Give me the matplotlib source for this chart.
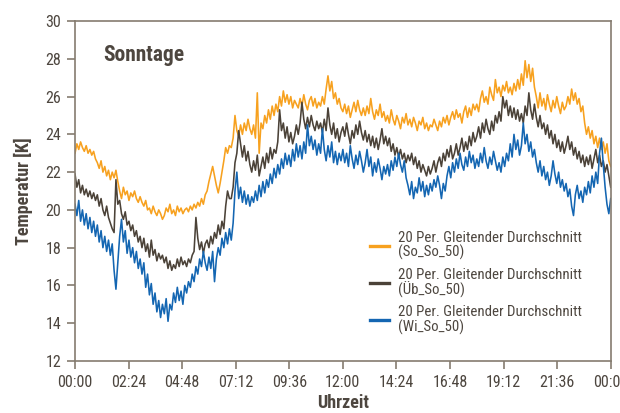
import numpy as np
import matplotlib
matplotlib.use("Agg")
import matplotlib.pyplot as plt
from matplotlib.ticker import FixedLocator
from matplotlib import font_manager

# condensed face if one is there, else plain DejaVu Sans
fams = {f.name for f in font_manager.fontManager.ttflist}
cond = [f for f in ['Liberation Sans Narrow', 'Roboto Condensed', 'DejaVu Sans Condensed'] if f in fams]
plt.rcParams['font.family'] = cond + ['DejaVu Sans']
plt.rcParams['font.stretch'] = 'condensed'

# time axis: one reading every 5 minutes, 00:00 .. 24:00
step_min = 5
tick_labels = ["00:00", "02:24", "04:48", "07:12", "09:36", "12:00",
               "14:24", "16:48", "19:12", "21:36", "00:00"]

# So_So_50 (orange), one row per hour
so_so = [
    23.0, 23.5, 23.2, 23.6, 23.3, 23.1, 23.4, 23.0, 23.2, 22.9, 23.1, 22.7,
    22.5, 22.2, 22.6, 22.0, 22.3, 21.8, 22.1, 21.6, 22.0, 21.7, 22.1, 21.5,
    21.0, 20.6, 21.2, 20.8, 21.0, 20.5, 20.9, 20.7, 21.0, 20.6, 20.4, 20.7,
    20.4, 20.2, 20.5, 20.0, 20.1, 19.8, 20.2, 19.9, 19.7, 20.0, 19.8, 19.5,
    19.7, 20.1, 19.9, 20.3, 19.8, 20.0, 19.7, 20.2, 19.9, 20.1, 19.8, 20.0,
    20.1, 19.9, 20.2, 20.0, 20.3, 20.1, 20.4, 20.2, 20.6, 20.3, 20.8, 21.0,
    21.5, 21.9, 22.3, 21.8, 21.3, 20.9, 21.4, 22.0, 22.6, 23.3, 23.0, 23.4,
    23.3, 23.8, 25.0, 24.2, 23.9, 24.5, 24.0, 24.6, 24.2, 24.8, 24.3, 24.0,
    24.5, 23.8, 26.2, 23.0, 24.6, 24.3, 25.0, 24.6, 25.3, 24.8, 25.5, 25.0,
    25.6, 25.2, 26.0, 25.5, 26.3, 25.7, 26.1, 25.6, 26.0, 25.4, 25.8, 25.6,
    25.4, 25.9, 25.5, 26.1, 25.6, 25.3, 25.8, 26.0, 25.5, 25.9, 25.4, 25.7,
    25.5, 26.0, 25.6, 26.4, 27.1, 26.3, 26.8, 25.9, 26.2, 25.6, 25.9, 25.4,
    25.2, 25.6, 25.1, 25.5, 24.9, 25.3, 25.7, 25.2, 25.8, 25.3, 25.0, 25.4,
    25.0, 25.5, 25.1, 25.9, 25.2, 24.8, 25.3, 25.0, 25.6, 24.9, 25.2, 24.7,
    25.0, 24.6, 25.3, 24.8, 24.5, 25.0, 24.7, 24.3, 24.9, 24.6, 25.1, 24.5,
    24.8, 24.4, 24.9, 24.6, 24.2, 24.7, 24.5, 24.9, 24.3, 24.6, 24.2, 24.5,
    24.4, 24.8, 24.5, 24.2, 24.7, 24.4, 24.9, 24.6, 25.0, 24.5, 24.9, 25.2,
    24.8, 25.3, 24.9, 25.1, 24.6, 25.2, 25.5, 24.9, 25.4, 25.0, 25.6, 25.3,
    25.6, 25.2, 25.9, 26.3, 25.7, 26.0, 25.6, 26.5, 26.1, 25.8, 26.9, 26.2,
    26.5, 26.0, 26.6, 26.3, 26.8, 26.2, 26.5, 26.1, 26.7, 26.3, 26.9, 26.4,
    27.2, 26.6, 27.9, 27.0, 27.7, 26.8, 27.5, 26.5, 26.0, 25.4, 26.2, 25.5,
    25.9, 25.3, 26.1, 25.6, 25.2, 25.8, 25.4, 26.0, 25.5, 25.1, 25.7, 25.3,
    25.5, 26.0, 25.6, 26.4, 25.8, 26.2, 25.6, 25.9, 25.2, 25.5, 24.6, 24.0,
    24.4, 23.8, 24.2, 23.5, 23.9, 23.3, 23.8, 23.2, 23.6, 23.0, 23.5, 22.6,
    22.3,
]

# Ub_So_50 (dark brown)
ub_so = [
    21.9, 21.2, 21.6, 20.9, 21.3, 20.8, 21.1, 20.7, 21.0, 20.6, 20.9, 20.5,
    20.8, 20.2, 20.6, 20.0, 19.7, 20.2, 19.6, 19.3, 19.0, 18.8, 21.6, 20.3,
    20.5, 19.8, 19.5, 19.9, 19.2, 19.4, 18.9, 19.2, 18.6, 18.9, 18.3, 18.6,
    18.0, 18.5, 17.8, 18.2, 17.5, 18.4, 17.6, 17.9, 17.3, 17.7, 17.4, 17.6,
    17.2, 17.5, 16.9, 17.3, 16.8, 17.1, 16.9, 17.4, 17.0, 17.5, 17.1, 17.3,
    17.0, 17.4, 17.2, 17.6, 17.8, 19.6, 18.5, 17.9, 18.3, 17.7, 18.2, 18.4,
    18.0, 18.6, 18.2, 18.8, 18.5, 19.2, 18.7, 19.4, 19.0, 20.2, 21.0, 20.6,
    20.6, 21.2, 22.5, 23.0, 24.2, 23.5, 22.8, 23.4, 22.6, 23.1, 22.4, 22.0,
    22.6, 22.1, 22.9, 21.8, 22.3, 22.8, 22.2, 23.0, 22.5, 23.3, 22.7, 23.2,
    23.0, 23.6, 25.3, 24.2, 24.6, 23.8, 24.4, 23.6, 24.1, 23.5, 23.9, 24.5,
    24.0, 24.6, 25.7, 24.8, 24.3, 24.9, 24.4, 25.0, 24.5, 24.2, 24.7, 24.3,
    24.6, 24.1, 24.8, 24.2, 25.4, 24.5, 24.0, 24.6, 23.8, 24.3, 23.6, 24.1,
    24.4, 23.9, 24.6, 24.0, 23.5, 24.2, 23.8, 24.5, 24.0, 24.7, 24.1, 23.7,
    24.2, 23.6, 24.0, 23.4, 23.9, 23.3, 23.8, 23.2, 23.7, 24.3, 23.5, 23.9,
    23.4, 23.8, 23.1, 23.5, 22.9, 23.3, 22.8, 23.2, 22.7, 23.0, 22.5, 22.9,
    22.6, 23.0, 22.4, 22.8, 22.2, 22.6, 22.0, 22.4, 22.1, 21.8, 22.3, 21.9,
    22.2, 22.6, 22.0, 22.5, 22.8, 22.3, 23.0, 22.6, 23.2, 22.8, 23.4, 22.7,
    23.0, 23.5, 22.9, 23.3, 23.8, 23.1, 23.6, 23.2, 23.9, 23.4, 24.1, 23.6,
    23.9, 24.4, 23.8, 24.6, 24.1, 24.8, 24.3, 24.0, 24.7, 24.2, 25.0, 24.6,
    25.2, 24.7, 26.0, 25.4, 25.8, 25.0, 25.5, 24.9, 25.4, 24.8, 25.3, 24.7,
    25.1, 24.6, 25.5, 25.0, 26.2, 25.3, 24.8, 25.6, 24.9, 24.4, 25.0, 24.3,
    24.6, 24.0, 24.5, 23.8, 24.2, 23.5, 24.0, 23.3, 23.7, 23.1, 23.6, 23.0,
    23.4, 23.9, 23.2, 23.6, 22.9, 23.3, 22.7, 23.1, 22.5, 22.9, 22.3, 22.8,
    22.4, 22.9, 22.2, 22.7, 23.2, 22.5, 22.9, 22.3, 22.6, 22.0, 22.4, 21.8,
    21.2,
]

# Wi_So_50 (blue)
wi_so = [
    20.3, 19.7, 20.5, 19.4, 20.0, 19.2, 19.8, 19.0, 19.6, 18.8, 19.4, 18.6,
    19.2, 18.3, 18.9, 18.0, 18.6, 17.8, 18.4, 17.6, 18.2, 16.8, 15.8, 17.2,
    18.6, 19.5, 18.3, 18.9, 17.7, 18.4, 17.5, 18.0, 17.2, 17.8, 16.9, 17.4,
    16.6, 17.2, 15.9, 16.6, 15.5, 16.1, 15.0, 15.6, 14.6, 15.2, 14.3, 15.0,
    14.5, 15.3, 14.1, 15.0, 14.7, 15.6, 15.1, 15.9, 15.2, 15.7, 15.0, 16.0,
    15.6, 16.2, 15.9, 16.6, 16.2, 17.0, 16.6, 17.4, 17.0, 17.8, 17.2, 16.8,
    17.5, 16.9, 17.8, 16.2, 17.4, 18.0, 17.6, 18.5, 18.0, 18.8, 18.2, 19.0,
    18.4, 19.3, 21.0, 22.0, 20.6, 21.2, 20.4, 21.0, 20.3, 20.8, 20.2, 20.7,
    20.4, 21.0, 20.5, 21.3, 20.7, 21.5, 20.9, 21.6, 21.2, 21.9, 21.4, 22.2,
    21.7, 22.4, 21.9, 22.7, 22.2, 23.0, 22.4, 22.9, 22.3, 23.2, 22.6, 23.5,
    22.8, 23.4, 22.7, 23.6, 23.0, 24.5, 23.4, 23.9, 23.2, 23.7, 22.9, 23.5,
    23.0, 24.3, 23.2, 22.6, 23.4, 22.8, 23.6, 22.5, 23.1, 22.4, 23.0, 22.6,
    23.2, 22.5, 23.0, 22.3, 23.4, 22.7, 22.2, 22.9, 22.4, 23.1, 22.6, 22.0,
    22.5, 23.2, 22.3, 22.8, 21.8, 22.5, 22.0, 22.7, 22.2, 21.6, 22.3, 21.9,
    22.4, 21.8, 22.6, 22.1, 22.8, 22.3, 23.0, 22.4, 22.0, 22.6, 21.7, 21.3,
    20.8, 21.5, 20.6, 21.2, 20.9, 21.7, 21.0, 21.5, 20.7, 21.3, 20.8, 21.4,
    21.0, 21.6, 21.2, 21.8, 21.3, 20.6, 21.4, 21.0, 21.8, 22.3, 21.7, 22.5,
    22.0, 22.7, 22.2, 23.0, 22.4, 22.1, 22.8, 22.3, 23.1, 22.5, 22.9, 22.2,
    22.7, 22.3, 23.0, 22.5, 23.3, 22.6, 22.2, 22.8, 22.4, 23.1, 22.6, 22.1,
    22.5, 22.0, 22.8, 22.3, 23.0, 22.6, 23.5, 22.8, 24.0, 23.2, 23.7, 22.9,
    23.4, 24.6, 23.5, 24.0, 23.1, 23.6, 22.8, 23.2, 22.5, 22.0, 22.6, 21.8,
    22.3, 21.6, 22.0, 21.3, 21.8, 22.6, 21.9, 21.4, 22.0, 21.2, 21.6, 21.0,
    21.4, 20.7, 21.1, 20.2, 19.7, 20.8, 21.3, 20.6, 21.0, 20.4, 21.2, 20.8,
    21.5, 20.9, 21.8, 21.2, 22.0, 21.4, 23.0, 23.8, 22.4, 21.2, 20.3, 19.8,
    20.6,
]

labels = ["20 Per. Gleitender Durchschnitt\n(So_So_50)",
          "20 Per. Gleitender Durchschnitt\n(Üb_So_50)",
          "20 Per. Gleitender Durchschnitt\n(Wi_So_50)"]
colors = ["#F7A11F", "#4B4238", "#1466B2"]

hours = np.arange(len(so_so)) * step_min / 60.0

txt = "#4D463F"
spine = "#857C70"

fig = plt.figure(figsize=(6.2, 4.13), dpi=100)
ax = fig.add_axes([0.121, 0.126, 0.864, 0.823])

for y, c, lab in zip([so_so, ub_so, wi_so], colors, labels):
    ax.plot(hours, y, color=c, lw=1.15, label=lab)

ax.set_xlim(0, 24)
ax.set_ylim(12, 30)
ax.xaxis.set_major_locator(FixedLocator(np.arange(0, 24.01, 2.4)))
ax.set_xticklabels(tick_labels)
ax.set_yticks(np.arange(12, 31, 2))

for s in ax.spines.values():
    s.set_color(spine)
    s.set_linewidth(1.2)
ax.tick_params(axis='both', direction='out', length=6, width=1.2, color=spine,
               labelcolor=txt, labelsize=11.5, pad=4)

ax.set_xlabel("Uhrzeit", fontsize=13, fontweight='bold', color=txt, labelpad=3)
ax.set_ylabel("Temperatur [K]", fontsize=13, fontweight='bold', color=txt, labelpad=9)

ax.text(0.052, 0.9, "Sonntage", transform=ax.transAxes, fontsize=15.5,
        fontweight='bold', color=txt, va='center', ha='left')

leg = ax.legend(loc='upper left', bbox_to_anchor=(0.54, 0.4), frameon=False,
                fontsize=10.7, labelcolor=txt, handlelength=1.25, handletextpad=0.6,
                labelspacing=0.5, borderaxespad=0)
for h in leg.legend_handles:
    h.set_linewidth(2.4)
for t in leg.get_texts():
    t.set_linespacing(1.0)

fig.savefig("out.png", dpi=100)
